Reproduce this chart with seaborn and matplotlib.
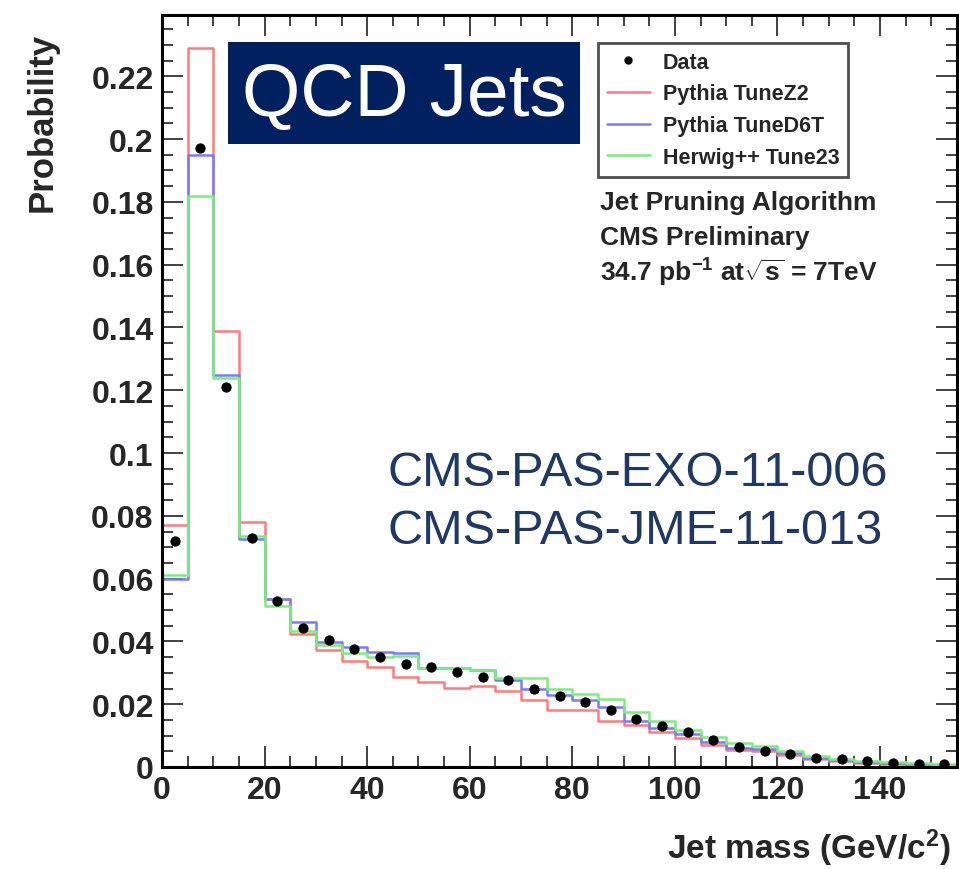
import matplotlib
matplotlib.use("Agg")
import matplotlib.pyplot as plt
import seaborn as sns
import numpy as np
import pandas as pd
from matplotlib.ticker import MultipleLocator, FuncFormatter
from matplotlib.lines import Line2D

# 5 GeV bins from 0 to 155
bin_edges = list(range(0, 160, 5))
bin_centers = [e + 2.5 for e in bin_edges[:-1]]

data_prob = [0.072, 0.197, 0.121, 0.073, 0.053, 0.0442, 0.0406, 0.0377, 0.0349, 0.0327,
             0.0317, 0.0301, 0.0286, 0.0276, 0.025, 0.0225, 0.0206, 0.018, 0.0153, 0.0129,
             0.011, 0.0086, 0.0064, 0.005, 0.004, 0.003, 0.0024, 0.0018, 0.0014, 0.0011, 0.0008]
pythia_z2 = [0.077, 0.229, 0.139, 0.078, 0.0535, 0.0423, 0.0372, 0.0338, 0.0318, 0.0288,
             0.0271, 0.0252, 0.0258, 0.0242, 0.0214, 0.0182, 0.0183, 0.0145, 0.0135, 0.011,
             0.0093, 0.0071, 0.0055, 0.005, 0.0037, 0.0025, 0.0019, 0.0013, 0.001, 0.0008, 0.0006]
pythia_d6t = [0.060, 0.195, 0.125, 0.0725, 0.0535, 0.0463, 0.0398, 0.0382, 0.0366, 0.0364,
              0.0314, 0.0314, 0.031, 0.0278, 0.0247, 0.0228, 0.0212, 0.019, 0.0145, 0.0125,
              0.0106, 0.008, 0.0061, 0.0058, 0.0043, 0.003, 0.0022, 0.0016, 0.0012, 0.0009, 0.0007]
herwig_23 = [0.061, 0.182, 0.124, 0.0735, 0.0513, 0.0433, 0.039, 0.0362, 0.035, 0.0353,
             0.0314, 0.0314, 0.031, 0.0285, 0.0285, 0.0247, 0.0231, 0.0218, 0.0174, 0.0145,
             0.0119, 0.0097, 0.0077, 0.0068, 0.005, 0.0035, 0.0025, 0.002, 0.0015, 0.0012, 0.001]

mc_names = ["Pythia TuneZ2", "Pythia TuneD6T", "Herwig++ Tune23"]
mc_values = [pythia_z2, pythia_d6t, herwig_23]
mc_colors = ["#ff7a7a", "#7a7aff", "#7aee7a"]

sns.set_style("ticks")
plt.rcParams['font.family'] = ['Liberation Sans', 'DejaVu Sans']
plt.rcParams['mathtext.fontset'] = 'custom'
plt.rcParams['mathtext.rm'] = 'Liberation Sans:bold'
plt.rcParams['mathtext.it'] = 'Liberation Sans:bold'
plt.rcParams['mathtext.bf'] = 'Liberation Sans:bold'

W, H = 959, 870
fig = plt.figure(figsize=(W / 100, H / 100), dpi=100)
ax = fig.add_axes([162 / W, 1 - 768 / H, (957 - 162) / W, (768 - 16) / H])

def fx(px):
    return px / W

def fy(py):
    return 1 - py / H

# MC histograms
for name, vals, col in zip(mc_names, mc_values, mc_colors):
    df = pd.DataFrame({"mass": bin_centers, "prob": vals})
    sns.histplot(data=df, x="mass", weights="prob", bins=bin_edges, element="step",
                 fill=False, color=col, linewidth=1.8, ax=ax)

# data points
sns.scatterplot(x=bin_centers, y=data_prob, color="black", s=55, edgecolor="black",
                linewidth=0, ax=ax, zorder=5)

ax.set_xlim(0, 155)
ax.set_ylim(0, 0.2395)
ax.set_xlabel("")
ax.set_ylabel("")

ax.xaxis.set_major_locator(MultipleLocator(20))
ax.xaxis.set_minor_locator(MultipleLocator(5))
ax.yaxis.set_major_locator(MultipleLocator(0.02))
ax.yaxis.set_minor_locator(MultipleLocator(0.005))
ax.yaxis.set_major_formatter(FuncFormatter(lambda v, p: f"{v:.2f}".rstrip("0").rstrip(".") if v > 0 else "0"))
ax.tick_params(which="both", direction="in", top=True, right=True, color="#333333")
ax.tick_params(which="major", length=15, width=1.3, labelsize=23, pad=6)
ax.tick_params(which="minor", length=8, width=1.3)
for lab in ax.get_xticklabels() + ax.get_yticklabels():
    lab.set_fontweight("bold")
for sp in ax.spines.values():
    sp.set_linewidth(2.2)
    sp.set_color("black")

# axis titles (ROOT style, at the ends)
fig.text(fx(42), fy(122), "Probability", rotation=90, fontsize=25, fontweight="bold",
         ha="center", va="center")
fig.text(fx(950), fy(848), "Jet mass (GeV/c$^{2}$)", fontsize=24, fontweight="bold",
         ha="right", va="center")

# legend
handles = [Line2D([], [], marker="o", color="black", linestyle="none", markersize=5)]
handles += [Line2D([], [], color=c, linewidth=1.8) for c in mc_colors]
leg = fig.legend(handles, ["Data"] + mc_names, loc="upper left",
                 bbox_to_anchor=(fx(598), fy(44)), borderaxespad=0, frameon=True,
                 fancybox=False, prop={"weight": "bold", "size": 15.5}, handlelength=2.0,
                 borderpad=0.4, labelspacing=0.5, handletextpad=0.6)
leg.get_frame().set_edgecolor("#222222")
leg.get_frame().set_linewidth(2)

# CMS labels
fig.text(fx(600), fy(203), "Jet Pruning Algorithm", fontsize=19, fontweight="bold", va="center")
fig.text(fx(600), fy(238), "CMS Preliminary", fontsize=19, fontweight="bold", va="center")
fig.text(fx(600), fy(273), r"34.7 pb$^{-1}$ at$\sqrt{s}$ = 7TeV", fontsize=19,
         fontweight="bold", va="center")

# references
fig.text(fx(387), fy(474), "CMS-PAS-EXO-11-006", fontsize=35, color="#1f3864", va="center")
fig.text(fx(387), fy(531), "CMS-PAS-JME-11-013", fontsize=35, color="#1f3864", va="center")

# title box
fig.patches.append(plt.Rectangle((fx(228), fy(145)), fx(580) - fx(228), fy(43) - fy(145),
                                 transform=fig.transFigure, facecolor="#002060",
                                 edgecolor="none", zorder=10))
fig.text(fx(404), fy(96), "QCD Jets", fontsize=54, color="white", ha="center",
         va="center", zorder=11)

fig.savefig("out.png", dpi=100)
